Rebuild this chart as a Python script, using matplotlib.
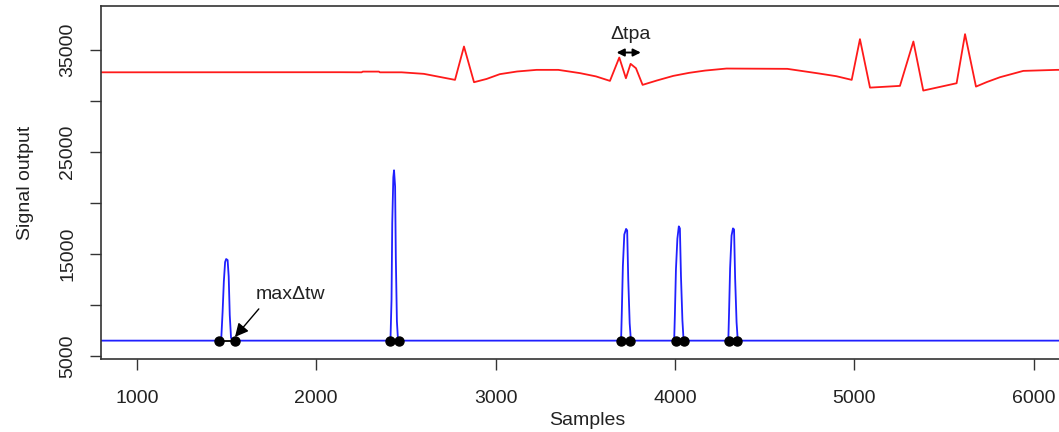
import matplotlib
matplotlib.use("Agg")
from matplotlib import pyplot as plt

plt.rcParams["font.family"] = ["Liberation Sans", "DejaVu Sans"]

# ------------------- Data ---------------------------------------------

# red trace (upper signal)
red_x = [800, 2132, 2253, 2260, 2350, 2355, 2476, 2600, 2774, 2824, 2880, 2950, 3024, 3120, 3229, 3350,
         3471, 3560, 3638, 3690, 3727, 3753, 3783, 3820, 3900, 3991, 4080, 4168, 4288, 4627, 4790,
         4900, 4986, 5032, 5088, 5255, 5330, 5385, 5571, 5618, 5679, 5740, 5813, 5943, 6129, 6250]
red_y = [32800, 32810, 32800, 32870, 32870, 32800, 32800, 32650, 32060, 35330, 31830, 32150, 32620, 32880, 33040, 33040,
         32720, 32400, 31960, 34250, 32220, 33630, 33200, 31570, 32000, 32450, 32750, 32970, 33170, 33140, 32720,
         32420, 32060, 36050, 31300, 31470, 35820, 31010, 31730, 36540, 31400, 31850, 32320, 32940, 33040, 33050]

# blue trace (lower signal): baseline with five narrow peaks
blue_x = [800,
          1470, 1478, 1485, 1492, 1498, 1506, 1512, 1518, 1525, 1532,
          2414, 2420, 2424, 2430, 2434, 2440, 2444, 2450, 2456, 2462,
          3700, 3704, 3710, 3718, 3728, 3734, 3740, 3748, 3754, 3758,
          3996, 4000, 4006, 4014, 4022, 4028, 4034, 4042, 4048, 4052,
          4298, 4302, 4308, 4316, 4324, 4330, 4336, 4344, 4350, 4354,
          6250]
blue_y = [6500,
          6500, 9300, 12300, 14200, 14500, 14400, 12800, 9000, 6800, 6500,
          6500, 10500, 18000, 22500, 23200, 21600, 14600, 8400, 6600, 6500,
          6500, 9200, 13800, 16900, 17450, 17300, 12500, 8200, 6700, 6500,
          6500, 9000, 13500, 16500, 17700, 17500, 12800, 8500, 6700, 6500,
          6500, 9200, 13600, 16800, 17500, 17400, 12600, 8300, 6700, 6500,
          6500]

# peak start / end markers
dot_start = [1458, 2411, 3701, 4006, 4302]
dot_end = [1547, 2461, 3750, 4051, 4346]
dot_level = 6500

y_ticks = [5000, 10000, 15000, 20000, 25000, 30000, 35000]
y_tick_labels = ["5000", "", "15000", "", "25000", "", "35000"]
x_ticks = [1000, 2000, 3000, 4000, 5000, 6000]

# ------------------- Plot ----------------------

fig = plt.figure(figsize=(10.59, 4.32), dpi=100)
ax = fig.add_axes([101 / 1059, 73 / 432, 972 / 1059, 353 / 432])

ax.plot(red_x, red_y, color="#ff1a1a", linewidth=1.3)
ax.plot(blue_x, blue_y, color="#2020ff", linewidth=1.3)

for x0, x1 in zip(dot_start, dot_end):
    ax.plot([x0, x1], [dot_level, dot_level], color="black", linewidth=1.3)
    ax.plot([x0, x1], [dot_level, dot_level], "o", color="black", markersize=6.5)

# annotations
ax.text(3755, 36470, "\u0394tpa", ha="center", va="center", fontsize=14, color="#222222")
ax.annotate("", xy=(3675, 34740), xytext=(3810, 34740),
            arrowprops=dict(arrowstyle="<|-|>", color="black", lw=1.4,
                            mutation_scale=11, shrinkA=0, shrinkB=0))
ax.text(1859, 10980, "max\u0394tw", ha="center", va="center", fontsize=14, color="#222222")
ax.annotate("", xy=(1547, 6860), xytext=(1680, 9610),
            arrowprops=dict(arrowstyle="-|>", color="black", lw=1.0,
                            mutation_scale=20, shrinkA=0, shrinkB=0))

ax.set_xlim(800, 6220)
ax.set_ylim(4700, 39300)
ax.set_xticks(x_ticks)
ax.set_xticklabels([str(t) for t in x_ticks])
ax.set_yticks(y_ticks)
ax.set_yticklabels(y_tick_labels, rotation=90, va="center")

ax.tick_params(axis="both", length=8, width=1.0, color="#333333",
               labelsize=14, labelcolor="#222222", direction="out")
ax.tick_params(axis="x", pad=14)
ax.tick_params(axis="y", pad=10)

for side in ["left", "bottom", "top", "right"]:
    ax.spines[side].set_color("#333333")
    ax.spines[side].set_linewidth(1.2)

ax.set_xlabel("Samples", fontsize=14, color="#222222", labelpad=4)
ax.set_ylabel("Signal output", fontsize=14, color="#222222", labelpad=18)

fig.savefig("out.png", dpi=100)
